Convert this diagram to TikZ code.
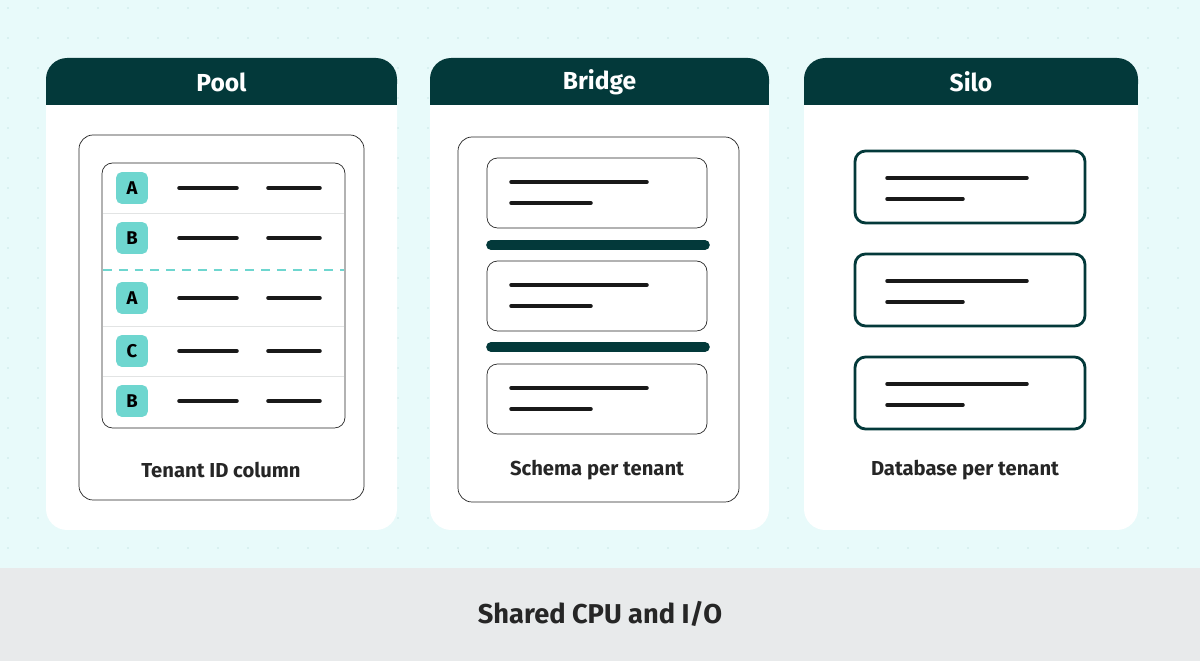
\documentclass[tikz,border=0pt]{standalone}
\usepackage{fontspec}
\setmainfont{Fira Sans}
\usetikzlibrary{positioning}

\definecolor{bgcyan}{HTML}{E8FAFA}
\definecolor{dotcol}{HTML}{C9E6E6}
\definecolor{darkteal}{HTML}{03393A}
\definecolor{badgecol}{HTML}{6ED6CF}
\definecolor{bandgray}{HTML}{E8EAEB}
\definecolor{rulegray}{HTML}{E2E4E4}

\tikzset{
    panel/.style={fill=white, rounded corners=12},
    frame/.style={draw=black!85, thin, rounded corners=8},
    badge/.style={fill=badgecol, rounded corners=3, minimum size=18pt, inner sep=0pt, font=\fontsize{10.5}{12}\selectfont\bfseries},
    stroke/.style={line width=2pt, line cap=round, black!90},
    caption/.style={font=\fontsize{11.5}{14}\selectfont\bfseries, text=black!85},
}

\begin{document}
\begin{tikzpicture}[x=0.02cm,y=-0.02cm]

    % background with dots
    \useasboundingbox (0,0) rectangle (1200,661);
    \fill[bgcyan] (0,0) rectangle (1200,568);
    \foreach \i in {0,...,40}
        \foreach \j in {0,...,18}
            \fill[dotcol] (\i*30+8,\j*30+8) circle (0.9);
    \fill[bandgray] (0,568) rectangle (1200,661);
    \node[font=\fontsize{15.5}{18}\selectfont\bfseries, text=black!85] (shared) at (600,614) {Shared CPU and I/O};

    % panels
    \foreach \name/\xa/\xb/\title in {pool/46/397/Pool, bridge/430/769/Bridge, silo/804/1138/Silo} {
        \fill[panel] (\xa,58) rectangle (\xb,530);
        \fill[darkteal, rounded corners=12] (\xa,58) rectangle (\xb,105);
        \fill[darkteal] (\xa,80) rectangle (\xb,105);
        \node[text=white, font=\fontsize{14}{16}\selectfont\bfseries] (\name-title) at ({(\xa+\xb)/2},82) {\title};
    }

    % Pool
    \draw[frame] (79,135) rectangle (364,500);
    \draw[frame, rounded corners=6] (102,163) rectangle (345,428);
    \foreach \y in {213,326,376}
        \draw[rulegray, thin] (103,\y) -- (344,\y);
    \draw[badgecol, line width=1.2pt, dash pattern=on 5pt off 4pt] (103,270) -- (344,270);
    \foreach \y/\t [count=\k] in {188/A,238/B,298/A,351/C,401/B} {
        \node[badge] (row\k) at (132,\y) {\t};
        \draw[stroke] (179,\y) -- (237,\y);
        \draw[stroke] (268,\y) -- (320,\y);
    }
    \node[caption] (pool-label) at (221,470) {Tenant ID column};

    % Bridge
    \draw[frame] (458,137) rectangle (739,502);
    \foreach \y [count=\k] in {158,261,364} {
        \draw[frame, rounded corners=6] (487,\y) rectangle (707,\y+70);
        \draw[stroke] (511,\y+24) -- (647,\y+24);
        \draw[stroke] (511,\y+45) -- (591,\y+45);
    }
    \foreach \y in {245,347}
        \draw[darkteal, line width=5.5pt, line cap=round] (491,\y) -- (705,\y);
    \node[caption] (bridge-label) at (597,470) {Schema per tenant};

    % Silo
    \foreach \y [count=\k] in {151,254,357} {
        \draw[darkteal, line width=1.6pt, rounded corners=6] (855,\y) rectangle (1085,\y+72);
        \draw[stroke] (887,\y+27) -- (1027,\y+27);
        \draw[stroke] (887,\y+48) -- (963,\y+48);
    }
    \node[caption] (silo-label) at (965,470) {Database per tenant};

\end{tikzpicture}
\end{document}
